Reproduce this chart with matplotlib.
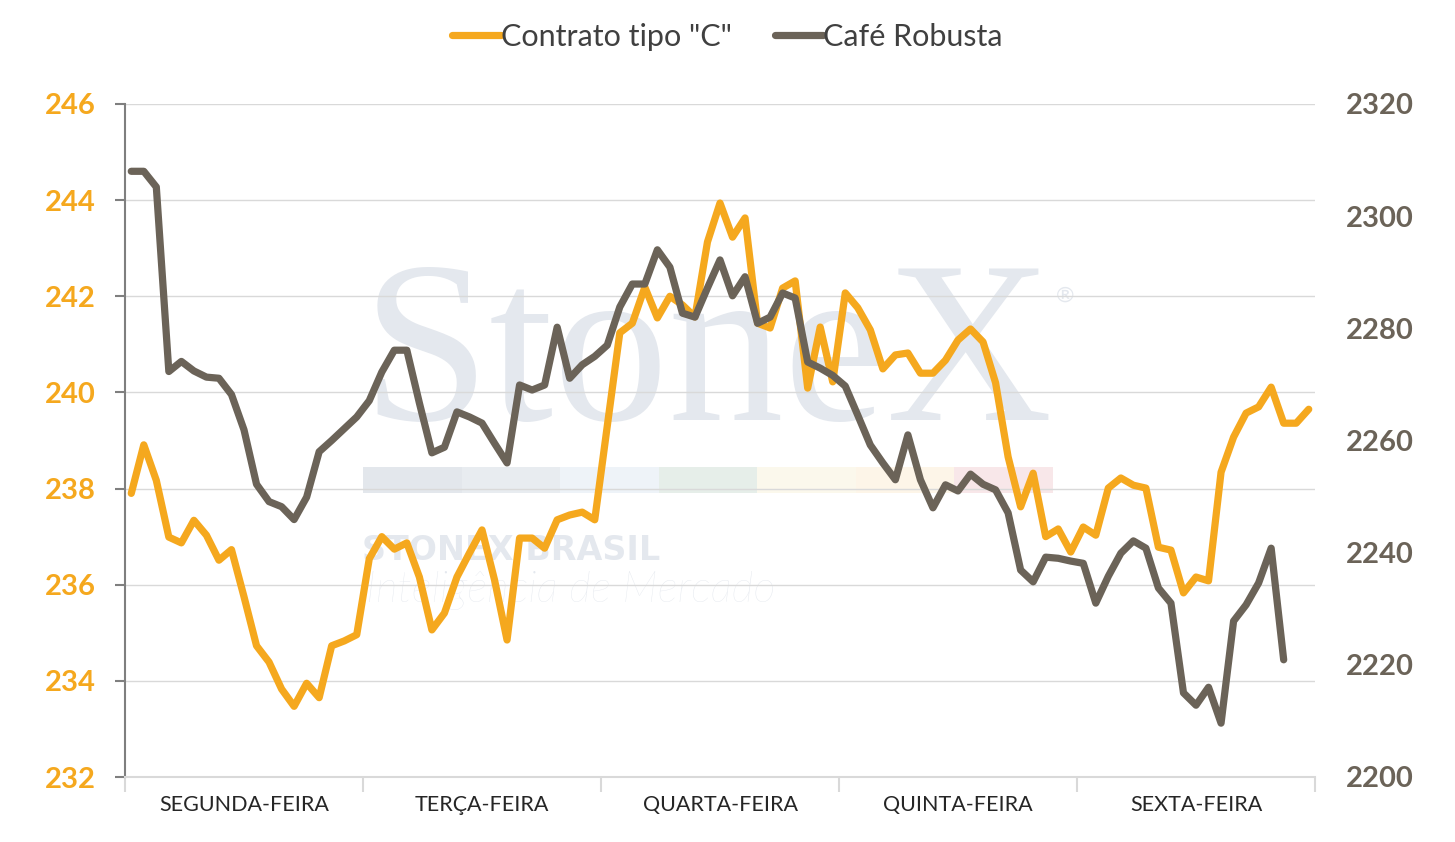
import matplotlib.pyplot as plt
import numpy as np

# dias da semana (cada dia = 19 leituras)
dias = ['SEGUNDA-FEIRA', 'TERÇA-FEIRA', 'QUARTA-FEIRA', 'QUINTA-FEIRA', 'SEXTA-FEIRA']
pontos_por_dia = 19

# Contrato tipo "C" (eixo esquerdo)
contrato_c = [
    237.90, 238.91, 238.17, 236.99, 236.87, 237.34, 237.03, 236.51, 236.73, 235.75,
    234.73, 234.39, 233.83, 233.47, 233.95, 233.65, 234.73, 234.83, 234.96, 236.54,
    237.00, 236.74, 236.87, 236.16, 235.06, 235.41, 236.16, 236.66, 237.14, 236.10,
    234.85, 236.97, 236.97, 236.76, 237.35, 237.45, 237.51, 237.35, 239.30, 241.24,
    241.44, 242.19, 241.55, 242.00, 241.82, 241.57, 243.13, 243.94, 243.23, 243.63,
    241.44, 241.34, 242.17, 242.32, 240.09, 241.36, 240.22, 242.07, 241.76, 241.30,
    240.49, 240.78, 240.82, 240.40, 240.40, 240.67, 241.09, 241.32, 241.05, 240.20,
    238.66, 237.62, 238.32, 237.00, 237.16, 236.68, 237.20, 237.03, 238.01, 238.22,
    238.07, 238.01, 236.78, 236.72, 235.83, 236.16, 236.08, 238.34, 239.07, 239.57,
    239.70, 240.11, 239.36, 239.36, 239.65,
]

# Café Robusta (eixo direito)
robusta = [
    2308.0, 2308.0, 2305.2, 2272.3, 2274.1, 2272.4, 2271.3, 2271.1, 2268.2, 2261.9,
    2252.2, 2249.1, 2248.2, 2245.9, 2249.9, 2258.0, 2260.0, 2262.1, 2264.2, 2267.1,
    2272.2, 2276.1, 2276.1, 2266.7, 2257.8, 2258.8, 2265.1, 2264.2, 2263.1, 2259.5,
    2256.0, 2269.9, 2269.0, 2269.9, 2280.2, 2271.1, 2273.5, 2275.0, 2277.0, 2283.8,
    2287.9, 2287.9, 2294.0, 2290.9, 2282.7, 2282.0, 2287.2, 2292.2, 2285.8, 2289.2,
    2280.9, 2282.0, 2286.3, 2285.4, 2274.0, 2272.9, 2271.6, 2269.7, 2264.5, 2259.2,
    2256.0, 2253.0, 2261.0, 2253.0, 2248.0, 2252.1, 2251.0, 2254.0, 2252.2, 2251.2,
    2247.1, 2236.9, 2234.8, 2239.2, 2239.0, 2238.5, 2238.1, 2231.0, 2235.8, 2239.9,
    2242.1, 2240.8, 2233.7, 2231.0, 2215.0, 2212.8, 2216.0, 2209.6, 2227.8, 2230.7,
    2234.6, 2240.8, 2220.9, np.nan, np.nan,
]

laranja = '#F5A81E'
cinza = '#6B6358'
grade = '#D9D9D9'

plt.rcParams['font.family'] = ['Lato', 'DejaVu Sans']

fig = plt.figure(figsize=(14.55, 8.42), dpi=100)
ax = fig.add_axes([125 / 1455, 65 / 842, 1190 / 1455, 673 / 842])
ax2 = ax.twinx()

x = np.arange(len(contrato_c))
ax.plot(x, contrato_c, color=laranja, lw=5.2, solid_joinstyle='round',
        solid_capstyle='round', zorder=3, label='Contrato tipo "C"')
ax2.plot(x, robusta, color=cinza, lw=5.2, solid_joinstyle='round',
         solid_capstyle='round', zorder=3, label='Café Robusta')


# marca d'agua
def px(xp, yp):
    return (xp - 125) / 1190, (777 - yp) / 673


wm = '#E4E8EE'
ax.text(*px(362, 420), 'StoneX', transform=ax.transAxes, fontsize=166,
        family='Liberation Serif', color=wm, ha='left', va='baseline', zorder=0.5)
ax.text(*px(1056, 296), '®', transform=ax.transAxes, fontsize=16,
        color=wm, ha='left', va='center', zorder=0.5)
cores_barra = ['#E3E7EC', '#E8ECF0', '#EEF3F8', '#E6EEE9', '#FBF8EC', '#FDF5E8', '#F8E7E9']
larg = (1053 - 363) / len(cores_barra)
for k, c in enumerate(cores_barra):
    x0, y0 = px(363 + k * larg, 493)
    ax.add_patch(plt.Rectangle((x0, y0), larg / 1190, 26 / 673, transform=ax.transAxes,
                               facecolor=c, edgecolor='none', zorder=0.5))
ax.text(*px(362, 560), 'STONEX BRASIL', transform=ax.transAxes, fontsize=24,
        family='DejaVu Sans', fontweight='bold', color=wm, ha='left', va='baseline',
        zorder=0.5)
ax.text(*px(366, 602), 'Inteligência de Mercado', transform=ax.transAxes, fontsize=31,
        style='italic', fontweight='light', color=wm, ha='left', va='baseline', zorder=0.5)

# eixos
ax.set_xlim(-0.5, len(contrato_c) - 0.5)
ax.set_ylim(232, 246)
ax.set_yticks(np.arange(232, 247, 2))
ax2.set_ylim(2200, 2320)
ax2.set_yticks(np.arange(2200, 2321, 20))

limites = np.arange(0, len(dias) + 1) * pontos_por_dia - 0.5
centros = np.arange(len(dias)) * pontos_por_dia + (pontos_por_dia - 1) / 2
ax.set_xticks(limites)
ax.set_xticklabels([])
ax.set_xticks(centros, minor=True)
ax.set_xticklabels(dias, minor=True, fontsize=15.5, color='#262626')
ax.tick_params(axis='x', which='major', length=11, width=1.5, color=grade)
ax.tick_params(axis='x', which='minor', length=0, pad=13)

ax.grid(axis='y', color=grade, lw=1)
ax.set_axisbelow(True)
ax.tick_params(axis='y', length=7, width=1.5, color='#7F7F7F', pad=14,
               labelsize=21, labelcolor=laranja)
for lab in ax.get_yticklabels():
    lab.set_fontweight('bold')
ax2.tick_params(axis='y', length=0, pad=22, labelsize=21, labelcolor=cinza)
for lab in ax2.get_yticklabels():
    lab.set_fontweight('bold')

for a in (ax, ax2):
    a.spines['top'].set_visible(False)
    a.spines['right'].set_visible(False)
ax2.spines['left'].set_visible(False)
ax2.spines['bottom'].set_visible(False)
ax.spines['left'].set_color('#7F7F7F')
ax.spines['left'].set_linewidth(1.5)
ax.spines['bottom'].set_color(grade)
ax.spines['bottom'].set_linewidth(1.5)

h1, l1 = ax.get_legend_handles_labels()
h2, l2 = ax2.get_legend_handles_labels()
fig.legend(h1 + h2, l1 + l2, loc='center', bbox_to_anchor=(0.5, 1 - 37 / 842), ncol=2,
           frameon=False, fontsize=22, handlelength=1.6, handletextpad=0.0,
           columnspacing=1.4, labelcolor='#404040')

fig.savefig('out.png', dpi=100)
